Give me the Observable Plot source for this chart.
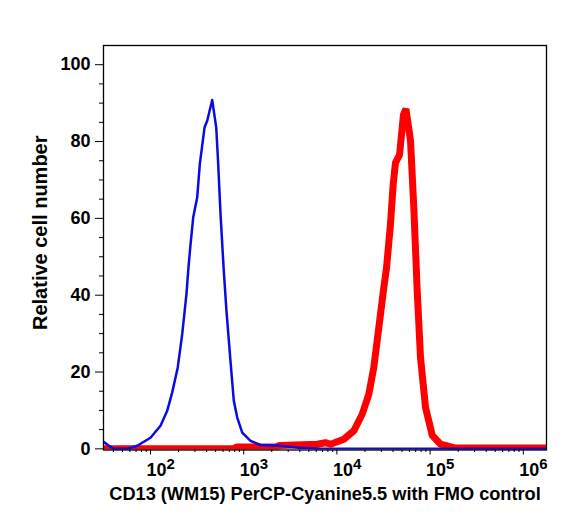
<!DOCTYPE html>
<html>
<head>
<meta charset="utf-8">
<script src="https://cdn.jsdelivr.net/npm/d3@7"></script>
<script src="https://cdn.jsdelivr.net/npm/@observablehq/plot@0.6"></script>
<style>
  html, body { margin: 0; padding: 0; background: #fff; }
</style>
</head>
<body>
<div id="chart"></div>
<script>
// CD13 (WM15) PerCP-Cyanine5.5 stained sample (red) against its FMO control (blue)
const fmoIntensity = [31.6, 35.7, 40.4, 56.2, 72, 100, 128, 151, 171, 196, 219, 243, 256, 269, 287, 317, 338, 380, 406, 459, 507, 528, 564, 611, 653, 721, 783, 851, 964, 1183, 1514, 2103, 2483, 3899, 6668, 1774000];
const fmoCount     = [1.8, 0.8, 0, 0, 0.8, 2.9, 6, 9.9, 14.7, 21.2, 29.9, 40.3, 47.5, 53.3, 60.2, 65.4, 74.1, 83.7, 85.4, 90.8, 83.7, 75.9, 61.1, 46.4, 35.9, 22.9, 12.5, 8.2, 4.2, 2.1, 1.0, 0.9, 0.8, 0.3, 0, 0];

const stainedIntensity = [31.3, 778, 838, 2249, 2421, 6150, 7551, 8536, 11860, 15180, 18670, 21980, 24880, 28170, 31870, 34040, 37580, 40180, 42540, 46990, 51800, 55080, 61660, 66880, 72720, 78890, 89300, 105400, 129400, 179600, 271000, 1774000];
const stainedCount     = [0, 0, 0.5, 0.5, 0.9, 1.2, 1.6, 1.2, 2.5, 4.7, 9.0, 14.2, 21.2, 31.6, 42, 47, 58.5, 68.9, 74.5, 76.5, 87, 88.5, 80.2, 62.8, 41.1, 23.8, 10.8, 3.5, 1.2, 0.3, 0.2, 0.2];

const yMajorTicks = [0, 20, 40, 60, 80, 100];
const yMinorTicks = [5, 10, 15, 25, 30, 35, 45, 50, 55, 65, 70, 75, 85, 90, 95];
const xDecades = [100, 1000, 10000, 100000, 1000000];
const xDecadeExponents = ["2", "3", "4", "5", "6"];
const xMinorTicks = [40, 50, 60, 70, 80, 90,
  200, 300, 400, 500, 600, 700, 800, 900,
  2000, 3000, 4000, 5000, 6000, 7000, 8000, 9000,
  20000, 30000, 40000, 50000, 60000, 70000, 80000, 90000,
  200000, 300000, 400000, 500000, 600000, 700000, 800000, 900000];

const xTitle = "CD13 (WM15) PerCP-Cyanine5.5 with FMO control";
const yTitle = "Relative cell number";

const fmo = fmoIntensity.map((x, i) => ({x, y: fmoCount[i]}));
const stained = stainedIntensity.map((x, i) => ({x, y: stainedCount[i]}));

const chart = Plot.plot({
  width: 566,
  height: 520,
  marginLeft: 103,
  marginRight: 20,
  marginTop: 45,
  marginBottom: 70.5,
  x: {type: "log", domain: [31.3, 1774000]},
  y: {domain: [-0.3, 105]},
  style: {
    fontFamily: "'Liberation Sans', Arial, Helvetica, sans-serif",
    fontSize: "17px",
    fontWeight: "bold",
    color: "#000",
    background: "#fff"
  },
  marks: [
    Plot.line(stained, {x: "x", y: "y", stroke: "#ff0000", strokeWidth: 7, strokeLinejoin: "miter", clip: "frame"}),
    Plot.line(fmo, {x: "x", y: "y", stroke: "#0a0ae6", strokeWidth: 2.5, clip: "frame"}),
    Plot.frame({stroke: "#000", strokeWidth: 1.3}),
    Plot.axisY({ticks: yMajorTicks, tickSize: 8, tickPadding: 5, label: null, fontSize: 18, fontWeight: "bold"}),
    Plot.axisY({ticks: yMinorTicks, tickSize: 4, tickFormat: () => "", label: null}),
    Plot.axisX({ticks: xDecades, tickSize: 5, tickFormat: () => "", label: null}),
    Plot.axisX({ticks: xMinorTicks, tickSize: 2.5, tickFormat: () => "", label: null}),
    // decade labels written as 10 with a raised exponent
    Plot.text(xDecades, {x: d => d, frameAnchor: "bottom", text: () => "10", textAnchor: "start", lineAnchor: "bottom", dx: -4, dy: 25.5, fontSize: 18, fontWeight: "bold"}),
    Plot.text(xDecades, {x: d => d, frameAnchor: "bottom", text: (d, i) => xDecadeExponents[i], textAnchor: "start", lineAnchor: "bottom", dx: 16, dy: 18.5, fontSize: 15, fontWeight: "bold"}),
    Plot.text([xTitle], {frameAnchor: "bottom", text: d => d, lineAnchor: "bottom", dy: 49.5, fontSize: 18.2, fontWeight: "bold"}),
    Plot.text([yTitle], {frameAnchor: "left", text: d => d, textAnchor: "middle", rotate: -90, dx: -63, dy: -15, fontSize: 20, fontWeight: "bold"})
  ]
});

document.getElementById("chart").appendChild(chart);
</script>
</body>
</html>
